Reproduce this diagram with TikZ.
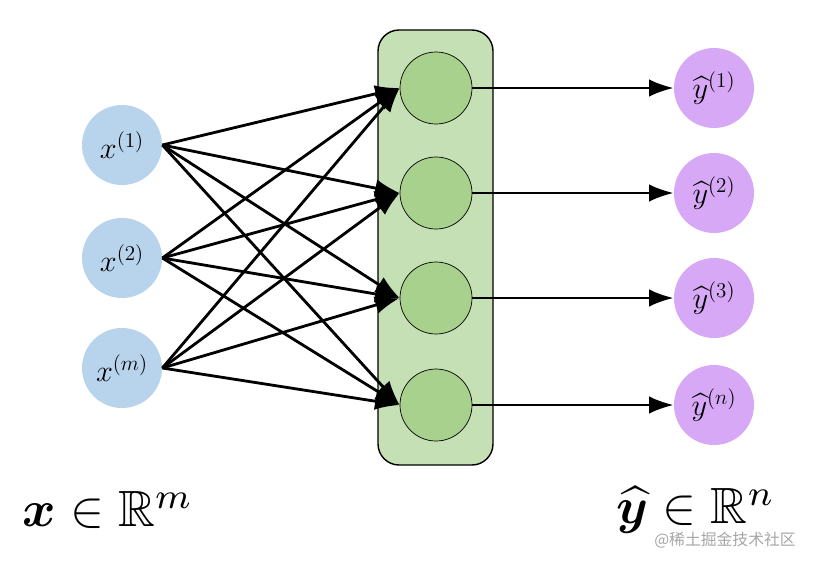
\documentclass[tikz,border=0pt]{standalone}
\usepackage{amsmath,amssymb,bm}
\usepackage{fontspec}
\newfontfamily\cjk{Noto Sans CJK SC}
\usetikzlibrary{arrows.meta}
\begin{document}
\begin{tikzpicture}[x=0.02cm,y=-0.02cm,
  inp/.style={circle,fill={rgb,255:red,184;green,211;blue,236},minimum size=80*0.02cm,inner sep=0pt,font=\LARGE},
  hid/.style={circle,draw=black,fill={rgb,255:red,169;green,209;blue,142},minimum size=72*0.02cm,inner sep=0pt},
  outp/.style={circle,fill={rgb,255:red,215;green,168;blue,245},minimum size=80*0.02cm,inner sep=0pt,font=\LARGE},
  arr/.style={line width=1.6pt,-{Latex[length=14pt,width=10pt]}}]
\useasboundingbox (0,0) rectangle (817,565);
\draw[fill={rgb,255:red,197;green,224;blue,180},rounded corners=12pt,line width=0.8pt] (378,30) rectangle (493,465);
\node[inp] (x1) at (122,145) {$x^{(1)}$};
\node[inp] (x2) at (122,258) {$x^{(2)}$};
\node[inp] (x3) at (122,368) {$x^{(m)}$};
\foreach \i/\y in {1/88,2/193,3/298,4/405}{
  \node[hid] (h\i) at (436,\y) {};
}
\node[outp] (y1) at (714,88) {$\widehat{y}^{(1)}$};
\node[outp] (y2) at (714,193) {$\widehat{y}^{(2)}$};
\node[outp] (y3) at (714,298) {$\widehat{y}^{(3)}$};
\node[outp] (y4) at (714,405) {$\widehat{y}^{(n)}$};
\foreach \a in {x1,x2,x3}{
  \foreach \b in {h1,h2,h3,h4}{
    \draw[arr] (\a.east) -- (\b.west);
  }
}
\foreach \i in {1,2,3,4}{
  \draw[arr] (h\i.east) -- (y\i.west);
}
\node (lx) at (108,510) {\scalebox{2.9}{$\bm{x}\in\mathbb{R}^m$}};
\node (ly) at (696,510) {\scalebox{2.9}{$\widehat{\bm{y}}\in\mathbb{R}^n$}};
\node[text=gray!70,font=\cjk\small] (wm) at (725,540) {@稀土掘金技术社区};
\end{tikzpicture}
\end{document}
